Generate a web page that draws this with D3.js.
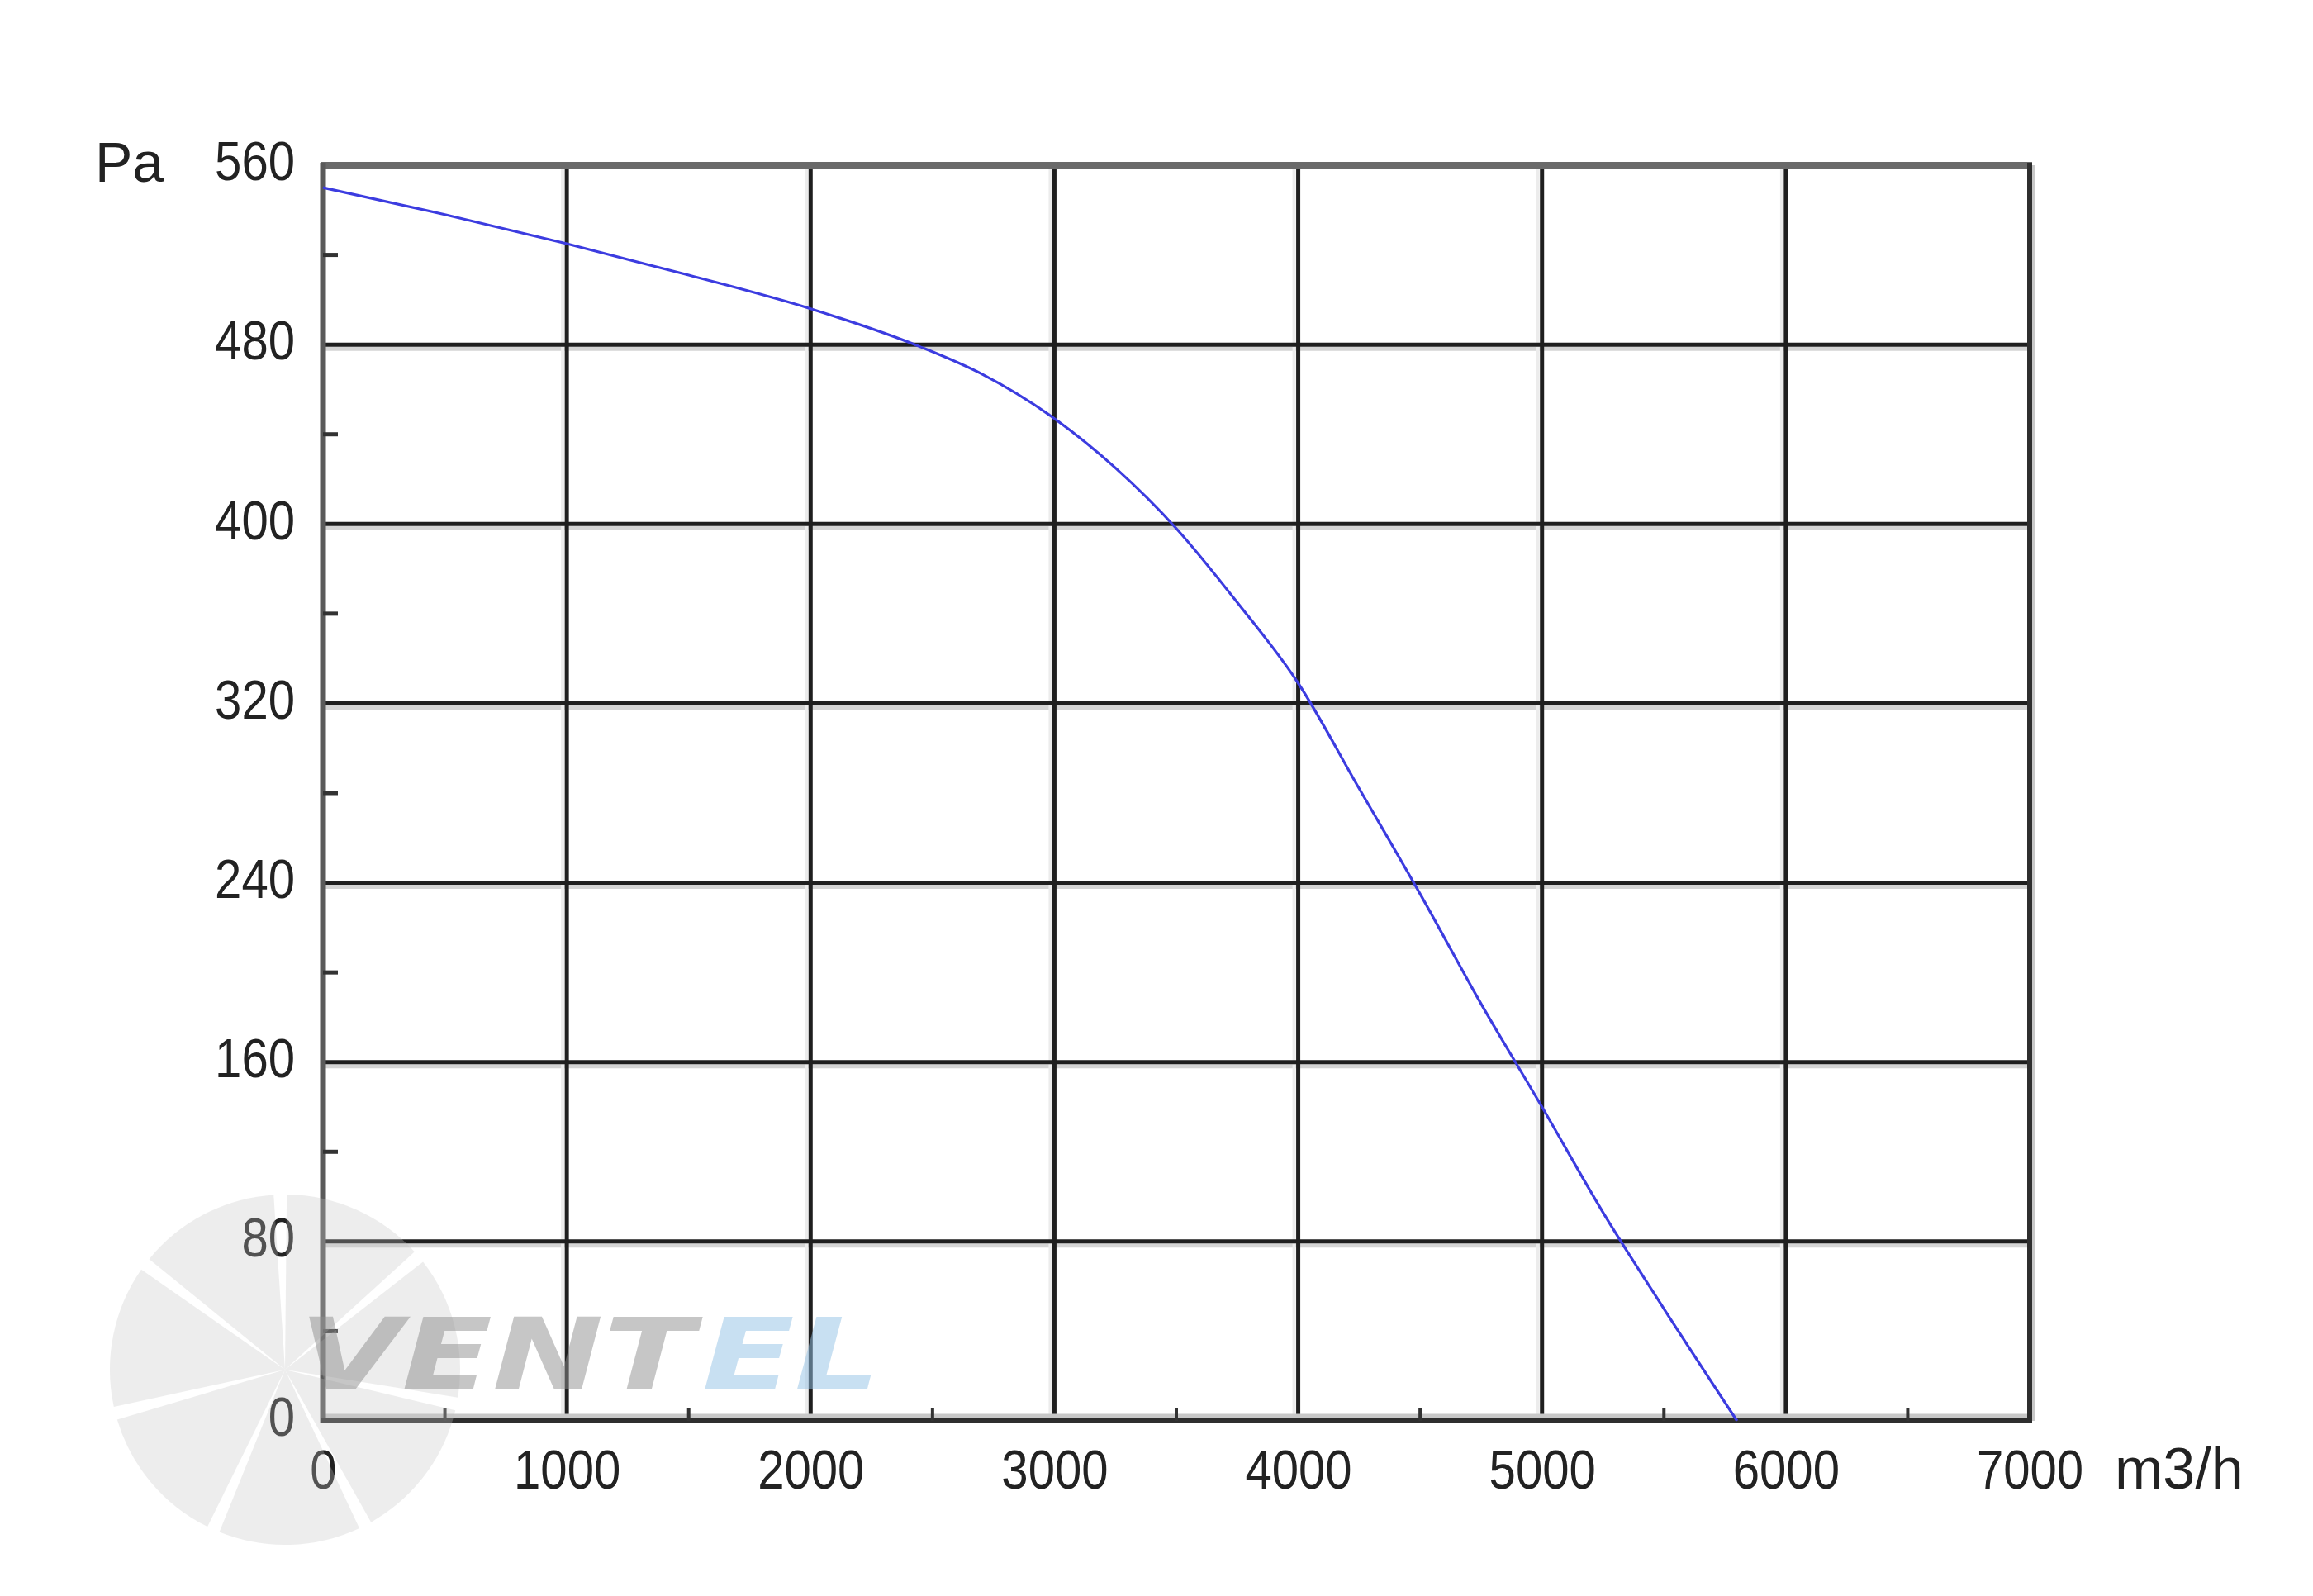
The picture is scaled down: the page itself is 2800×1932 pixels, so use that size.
<!DOCTYPE html>
<html><head><meta charset="utf-8">
<script src="https://cdn.jsdelivr.net/npm/d3@7"></script>
<style>html,body{margin:0;padding:0;background:#fff}</style>
</head><body>
<svg id="chart" width="2800" height="1932"></svg>
<script>
// ---- data ----
const flow = [0, 500, 1000, 1500, 2000, 2450, 2700, 3000, 3250, 3500, 3750, 4000, 4250, 4500, 4750, 5000, 5250, 5500, 5800];
const pressure = [550, 538, 525, 511, 496, 479, 467, 447, 425, 398, 365, 329, 282, 235, 186, 140, 93, 50, 0];
const xTicks = [0, 1000, 2000, 3000, 4000, 5000, 6000, 7000];
const xMinorTicks = [500, 1500, 2500, 3500, 4500, 5500, 6500];
const yTicks = [0, 80, 160, 240, 320, 400, 480, 560];
const yMinorTicks = [40, 120, 200, 280, 360, 440, 520];
const yUnit = "Pa";
const xUnit = "m3/h";

// ---- layout ----
const svg = d3.select("#chart");
const L = 391, R = 2457, T = 200, B = 1720;
const x = d3.scaleLinear().domain([0, 7000]).range([L, R]);
const y = d3.scaleLinear().domain([0, 560]).range([B, T]);
const FONT = "'Liberation Sans', Arial, sans-serif";
const SX = 0.88;

svg.append("rect").attr("width", 2800).attr("height", 1932).attr("fill", "#fff");

// grid halos
const g = svg.append("g");
g.selectAll("line.hh").data(yTicks.filter(d => d > 0 && d < 560)).join("line")
  .attr("x1", L).attr("x2", R).attr("y1", d => y(d) + 5).attr("y2", d => y(d) + 5)
  .attr("stroke", "#d4d4d4").attr("stroke-width", 5);
g.selectAll("line.vh").data(xTicks.filter(d => d > 0 && d < 7000)).join("line")
  .attr("x1", d => x(d) - 5).attr("x2", d => x(d) - 5).attr("y1", T).attr("y2", B)
  .attr("stroke", "#ececec").attr("stroke-width", 4);

// gridlines
g.selectAll("line.h").data(yTicks.filter(d => d > 0 && d < 560)).join("line")
  .attr("x1", L).attr("x2", R).attr("y1", d => y(d)).attr("y2", d => y(d))
  .attr("stroke", "#1f1f1f").attr("stroke-width", 5);
g.selectAll("line.v").data(xTicks.filter(d => d > 0 && d < 7000)).join("line")
  .attr("x1", d => x(d)).attr("x2", d => x(d)).attr("y1", T).attr("y2", B)
  .attr("stroke", "#1f1f1f").attr("stroke-width", 5);

// frame
svg.append("line").attr("x1", L).attr("x2", R).attr("y1", B - 6).attr("y2", B - 6).attr("stroke", "#c8c8c8").attr("stroke-width", 5);
svg.append("line").attr("x1", R + 5).attr("x2", R + 5).attr("y1", T).attr("y2", B).attr("stroke", "#c8c8c8").attr("stroke-width", 4);
svg.append("line").attr("x1", L - 3).attr("x2", R + 3).attr("y1", T).attr("y2", T).attr("stroke", "#6a6a6a").attr("stroke-width", 8);
svg.append("line").attr("x1", L).attr("x2", L).attr("y1", T - 3).attr("y2", B + 3).attr("stroke", "#5a5a5a").attr("stroke-width", 7);
svg.append("line").attr("x1", R).attr("x2", R).attr("y1", T - 3).attr("y2", B + 3).attr("stroke", "#2e2e2e").attr("stroke-width", 6);
svg.append("line").attr("x1", L - 3).attr("x2", R + 3).attr("y1", B).attr("y2", B).attr("stroke", "#2e2e2e").attr("stroke-width", 6);

// minor ticks
svg.selectAll("line.ym").data(yMinorTicks).join("line")
  .attr("x1", L).attr("x2", L + 18).attr("y1", d => y(d)).attr("y2", d => y(d))
  .attr("stroke", "#333").attr("stroke-width", 5);
svg.selectAll("line.xm").data(xMinorTicks).join("line")
  .attr("x1", d => x(d)).attr("x2", d => x(d)).attr("y1", B).attr("y2", B - 16)
  .attr("stroke", "#333").attr("stroke-width", 4);

// axes (labels)
const yAxis = svg.append("g").attr("transform", `translate(${L},0)`)
  .call(d3.axisLeft(y).tickValues(yTicks).tickSize(0).tickPadding(34).tickFormat(d3.format("d")));
yAxis.select(".domain").remove();
yAxis.selectAll("text")
  .attr("font-family", FONT).attr("font-size", 66).attr("fill", "#222")
  .attr("x", -34 / SX).attr("dy", "0.27em").attr("transform", `scale(${SX},1)`);

const xAxis = svg.append("g").attr("transform", `translate(0,${B})`)
  .call(d3.axisBottom(x).tickValues(xTicks).tickSize(0).tickFormat(d3.format("d")));
xAxis.select(".domain").remove();
xAxis.selectAll("text")
  .attr("font-family", FONT).attr("font-size", 66).attr("fill", "#222")
  .attr("y", 82).attr("dy", 0).attr("transform", `scale(${SX},1)`);

// units
svg.append("text").attr("x", 115).attr("y", 220).attr("font-family", FONT)
  .attr("font-size", 68).attr("fill", "#222").text(yUnit);
svg.append("text").attr("x", 2560).attr("y", 1802).attr("font-family", FONT)
  .attr("font-size", 70).attr("fill", "#222").text(xUnit);

// curve
const line = d3.line().x(d => x(d[0])).y(d => y(d[1])).curve(d3.curveMonotoneX);
svg.append("path").datum(flow.map((f, i) => [f, pressure[i]]))
  .attr("d", line).attr("fill", "none").attr("stroke", "#3c3ce0").attr("stroke-width", 3.2);

// watermark (fan + logo text)
const wm = svg.append("g").attr("pointer-events", "none");
const nBlades = 7;
const arc = d3.arc().innerRadius(0).outerRadius(212).padAngle(0.075).padRadius(212);
const off = -53 * Math.PI / 180;
const blades = d3.range(nBlades).map(i => ({
  startAngle: off + i * 2 * Math.PI / nBlades,
  endAngle: off + (i + 1) * 2 * Math.PI / nBlades
}));
wm.append("g").attr("transform", "translate(345,1658)")
  .selectAll("path").data(blades).join("path")
  .attr("d", arc).attr("fill", "#c4c4c4").attr("opacity", 0.3);

wm.append("text").attr("x", 362).attr("y", 1681)
  .attr("font-family", "'DejaVu Sans', sans-serif").attr("font-weight", "bold")
  .attr("font-style", "italic").style("font-variant-caps", "all-small-caps")
  .attr("font-size", 172).attr("textLength", 478).attr("lengthAdjust", "spacingAndGlyphs")
  .attr("fill", "#8f8f8f").attr("opacity", 0.5).text("vent");
wm.append("text").attr("x", 850).attr("y", 1681)
  .attr("font-family", "'DejaVu Sans', sans-serif").attr("font-weight", "bold")
  .attr("font-style", "italic").style("font-variant-caps", "all-small-caps")
  .attr("font-size", 172).attr("textLength", 216).attr("lengthAdjust", "spacingAndGlyphs")
  .attr("fill", "#93c2e6").attr("opacity", 0.5).text("el");
</script>
</body></html>
